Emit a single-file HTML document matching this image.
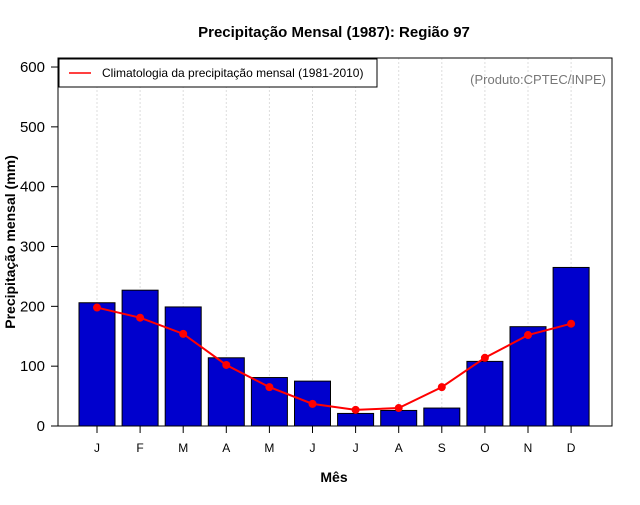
<!DOCTYPE html>
<html><head><meta charset="utf-8"><style>
body{margin:0;background:#fff;font-family:"Liberation Sans",sans-serif}
</style></head><body>
<svg id="chart" width="640" height="500" xmlns="http://www.w3.org/2000/svg" font-family="Liberation Sans, sans-serif">
<rect width="640" height="500" fill="#fff"/>
<text x="334" y="37" text-anchor="middle" font-weight="bold" font-size="15">Precipitação Mensal (1987): Região 97</text>
<text x="334" y="482" text-anchor="middle" font-weight="bold" font-size="14">Mês</text>
<text transform="translate(15,242) rotate(-90)" text-anchor="middle" font-weight="bold" font-size="14">Precipitação mensal (mm)</text>
<g id="grid"></g><g id="bars"></g><g id="line"></g><g id="axes"></g>
<rect x="58" y="58" width="554" height="368" fill="none" stroke="#000" stroke-width="1"/>
<g>
<rect x="59" y="59" width="318" height="28" fill="#fff" stroke="#000" stroke-width="1"/>
<line x1="69" y1="73" x2="91" y2="73" stroke="red" stroke-width="1.5"/>
<text x="102" y="77" font-size="12">Climatologia da precipitação mensal (1981-2010)</text>
</g>
<text x="606" y="84" text-anchor="end" font-size="13" fill="#777">(Produto:CPTEC/INPE)</text>
</svg>
<script>
const months=["J","F","M","A","M","J","J","A","S","O","N","D"];
const observed=[206,227,199,114,81,75,21,26,30,108,166,265];
const climatology=[198,181,154,102,65,37,27,30,65,114,152,171];
const yTicks=[0,100,200,300,400,500,600];
const NS="http://www.w3.org/2000/svg";
const X=i=>97+43.1*i, Y=v=>426-v*0.5983, BW=36;
function mk(g,t,a){const e=document.createElementNS(NS,t);for(const k in a)e.setAttribute(k,a[k]);document.getElementById(g).appendChild(e);return e;}
months.forEach((m,i)=>{
 const gl=mk("grid","line",{x1:X(i),x2:X(i),y1:58,y2:426,stroke:"#ddd","stroke-dasharray":"2,2"});
 
 
 const b=mk("bars","rect",{x:X(i)-BW/2,y:Y(observed[i]),width:BW,height:Y(0)-Y(observed[i]),fill:"#0000cd",stroke:"#000","stroke-width":1});
 
 
 const tk=mk("axes","line",{x1:X(i),x2:X(i),y1:426,y2:433,stroke:"#000"});
 
 
 const tl=mk("axes","text",{x:X(i),y:452,"text-anchor":"middle","font-size":12});
 tl.textContent=m;
 
 
});
const pl=mk("line","polyline",{points:climatology.map((v,i)=>X(i)+","+Y(v)).join(" "),fill:"none",stroke:"red","stroke-width":2});


climatology.forEach((v,i)=>{
 const c=mk("line","circle",{cx:X(i),cy:Y(v),r:4,fill:"red"});
 
 
});
yTicks.forEach(t=>{
 const l=mk("axes","line",{x1:51,x2:58,y1:Y(t),y2:Y(t),stroke:"#000"});
 
 
 const tx=mk("axes","text",{x:45,y:Y(t)+5,"text-anchor":"end","font-size":15});
 tx.textContent=t;
 
 
});
</script>
</body></html>
